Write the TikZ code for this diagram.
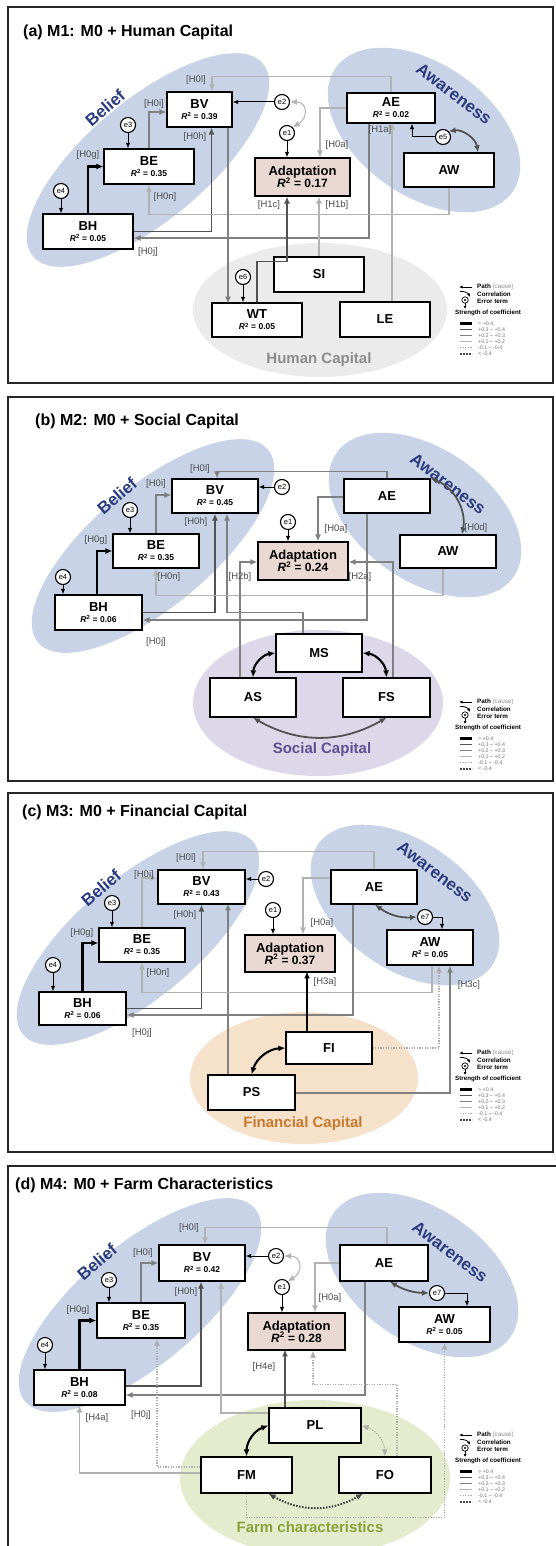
\documentclass[tikz,border=0pt]{standalone}
\usepackage{fontspec}
\setmainfont{Liberation Sans}
\usepackage{tikz}
\usetikzlibrary{arrows.meta}

\definecolor{blobblue}{HTML}{C9D3E7}
\definecolor{grpblue}{HTML}{2B3C7E}
\definecolor{humangray}{HTML}{EBEBEB}
\definecolor{socialpurple}{HTML}{DCD8EA}
\definecolor{socialtext}{HTML}{5E4F92}
\definecolor{finpeach}{HTML}{F6E2CA}
\definecolor{fintext}{HTML}{C7792E}
\definecolor{farmgreen}{HTML}{E5ECCD}
\definecolor{farmtext}{HTML}{86A33A}
\definecolor{adaptfill}{HTML}{EAD8D2}

\newcommand{\rsqv}[1]{{\itshape R}\textsuperscript{2} = #1}
\newcommand{\rline}[1]{\\[-2pt]{\fontsize{8.5}{9}\selectfont\rsqv{#1}}}
\newcommand{\adline}[1]{Adaptation\\[-1pt]{\fontsize{12}{12}\selectfont\rsqv{#1}}}

\begin{document}
\begin{tikzpicture}[x=1pt,y=-1pt,>={Latex[length=7pt,width=6pt]},
    box/.style={draw,line width=1.2pt,fill=white,inner sep=0pt,align=center,
                font=\bfseries\fontsize{13}{13}\selectfont},
    abox/.style={box,fill=adaptfill},
    wh/.style 2 args={minimum width=#1,minimum height=#2},
    err/.style={circle,draw,line width=1.1pt,fill=white,inner sep=0pt,
                minimum size=15pt,font=\fontsize{7.5}{8}\selectfont},
    earr/.style={->,line width=1pt,black,>={Latex[length=5.5pt,width=4.5pt]}},
    s1/.style={line width=2.1pt,black},
    s2/.style={line width=1.8pt,black!68},
    s3/.style={line width=1.3pt,black!50},
    s4/.style={line width=1.1pt,black!30},
    s5/.style={line width=1.2pt,black!32,dash pattern=on 1.2pt off 1.4pt},
    s6/.style={line width=2pt,black!72,dash pattern=on 1.6pt off 1.4pt},
    hl/.style={font=\fontsize{9.5}{10}\selectfont,text=black!70,inner sep=0pt},
    ttl/.style={anchor=west,inner sep=0pt,font=\bfseries\fontsize{16}{16}\selectfont},
    grp/.style={font=\bfseries\fontsize{17}{17}\selectfont,text=grpblue,inner sep=0pt},
    grplab/.style={font=\bfseries\fontsize{15}{15}\selectfont,inner sep=0pt},
    panelframe/.style={line width=1.2pt,black!85},
    kt/.style={font=\fontsize{6.3}{6.5}\selectfont,inner sep=0pt,anchor=west},
    kv/.style={font=\fontsize{5.3}{5.5}\selectfont,inner sep=0pt,anchor=west,text=black!55},
    pics/keybox/.style={code={
      \draw[->,line width=.8pt,>={Latex[length=3.5pt,width=3pt]}] (17,4) -- (4,4);
      \node[kt] at (22,4) {\textbf{Path} \textcolor{black!45}{(cause)}};
      \draw[->,line width=.8pt,>={Latex[length=3.5pt,width=3pt]}] (5,8.5) to[bend left=35] (15,14);
      \node[kt] at (22,11.5) {\textbf{Correlation}};
      \draw[line width=.7pt] (10,17) circle[radius=3.2];
      \fill (10,17) circle[radius=1.1];
      \draw[->,line width=.7pt,>={Latex[length=3pt,width=3pt]}] (10,20.2) -- (10,26);
      \node[kt] at (22,18.5) {\textbf{Error term}};
      \node[kt,font=\bfseries\fontsize{6.2}{6.5}\selectfont] at (0,30) {Strength of coefficient};
      \foreach \yy/\st/\tx in {40.5/s1/{> +0.4},46.5/s2/{+0.3 – +0.4},52.5/s3/{+0.2 – +0.3},
                               58.5/s4/{+0.1 – +0.2},64.5/s5/{-0.1 – -0.4},70.5/s6/{< -0.4}}{
        \draw[\st] (5,\yy) -- (17,\yy);
        \node[kv] at (23,\yy) {\tx};
      }
    }}]

\fill[white] (0,0) rectangle (556,1546);
\useasboundingbox (0,0) rectangle (556,1546);

% (a) human capital
\draw[panelframe] (8,7) rectangle (553,383);
\node[ttl] at (23,32) {(a) M1: M0 + Human Capital};
\fill[blobblue,rotate around={40:(148,160)}] (148,160) ellipse [x radius=150,y radius=60];
\fill[blobblue,rotate around={-35:(424,130)}] (424,130) ellipse [x radius=108,y radius=66];
\fill[humangray] (320,310) ellipse [x radius=127,y radius=67];
\node[grp,rotate=41] at (105,108) {Belief};
\node[grp,rotate=-37] at (454,94) {Awareness};
\node[grplab,text=black!45] at (319,360) {Human Capital};

\node[box,wh={65}{35}] (BVa) at (199.5,109.5) {BV\rline{0.39}};
\node[box,wh={88}{30}] (AEa) at (391,108) {AE\rline{0.02}};
\node[abox,wh={95}{38}] (ADa) at (302.5,177) {\adline{0.17}};
\node[box,wh={90}{35}] (BEa) at (149,166.5) {BE\rline{0.35}};
\node[box,wh={90}{34}] (AWa) at (449,170) {AW};
\node[box,wh={90}{35}] (BHa) at (88,231.5) {BH\rline{0.05}};
\node[box,wh={90}{34}] (WTa) at (257,320) {WT\rline{0.05}};
\node[box,wh={90}{35}] (SIa) at (319,274.5) {SI};
\node[box,wh={90}{35}] (LEa) at (385,319.5) {LE};
\node[err] (e1a) at (287,133) {e1};
\node[err] (e2a) at (282,102) {e2};
\node[err] (e3a) at (128,125) {e3};
\node[err] (e4a) at (61,191) {e4};
\node[err] (e5a) at (443,137) {e5};
\node[err] (e6a) at (243,277) {e6};

\draw[s4,->] (AEa.north) -- ++(0,-16) -| ([xshift=12.5pt]BVa.north);
\draw[s3,->] (BEa.north) |- ([yshift=-2.5pt]BVa.west);
\draw[earr] (e2a) -- (e2a -| BVa.east);
\draw[<->,line width=1pt,black!30] (e2a.east) to[out=0,in=30,looseness=1.8] (e1a.north east);
\draw[earr] (e1a) -- (e1a |- ADa.north);
\draw[s4,->] (AEa.west) -| ([xshift=17.5pt]ADa.north);
\draw[s2,->] (BHa.east) -| ([xshift=12pt]BVa.south);
\draw[s3,->] ([xshift=-22pt]AEa.south) |- ([yshift=-6.5pt]BHa.east);
\draw[s4,->] (AWa.south) -- ++(0,27) -| (BEa.south);
\draw[s1,->] (BHa.north) |- (BEa.west);
\draw[earr] (e3a) -- (e3a |- BEa.north);
\draw[earr] (e4a) -- (e4a |- BHa.north);
\draw[s3,->] ([xshift=28.5pt]BVa.south) -- ++(0,176);
\draw[earr] (e6a) -- (e6a |- WTa.north);
\draw[s2,->] (WTa.north) -- ++(0,-41) -| ([xshift=-15.5pt]ADa.south);
\draw[s4,->] (SIa.north) -- (SIa.north |- ADa.south);
\draw[s4,->] ([xshift=7pt]LEa.north) -- ++(0,-179);
\draw[earr] (e5a.west) -| ([xshift=21pt]AEa.south);
\draw[s2,<->] (e5a.north east) to[bend left=45] ([xshift=29pt]AWa.north);

\node[hl] at (196,80) {[H0l]};
\node[hl] at (154,104) {[H0i]};
\node[hl] at (195,137) {[H0h]};
\node[hl] at (88,155) {[H0g]};
\node[hl] at (337,145) {[H0a]};
\node[hl] at (380,130) {[H1a]};
\node[hl] at (165,197) {[H0n]};
\node[hl] at (269,205) {[H1c]};
\node[hl] at (337,205) {[H1b]};
\node[hl] at (148,252) {[H0j]};
\pic at (455,283) {keybox};

% (b) social capital
\draw[panelframe] (8,397) rectangle (553,781);
\node[ttl] at (35,421) {(b) M2: M0 + Social Capital};
\fill[blobblue,rotate around={40:(153,546)}] (153,546) ellipse [x radius=150,y radius=60];
\fill[blobblue,rotate around={-35:(425,515)}] (425,515) ellipse [x radius=108,y radius=66];
\fill[socialpurple] (318,703) ellipse [x radius=125,y radius=73];
\node[grp,rotate=41] at (117,496) {Belief};
\node[grp,rotate=-37] at (448,484) {Awareness};
\node[grplab,text=socialtext] at (322,750) {Social Capital};

\node[box,wh={86}{34}] (BVb) at (215,496) {BV\rline{0.45}};
\node[box,wh={86}{34}] (AEb) at (387,496) {AE};
\node[abox,wh={90}{38}] (ADb) at (303,561) {\adline{0.24}};
\node[box,wh={86}{34}] (BEb) at (156,551) {BE\rline{0.35}};
\node[box,wh={96}{33}] (AWb) at (448,551.5) {AW};
\node[box,wh={87}{35}] (BHb) at (98.5,612.5) {BH\rline{0.06}};
\node[box,wh={86}{38}] (MSb) at (319,653) {MS};
\node[box,wh={86}{39}] (ASb) at (253,697.5) {AS};
\node[box,wh={87}{39}] (FSb) at (386.5,697.5) {FS};
\node[err] (e1b) at (288,522) {e1};
\node[err] (e2b) at (282,487) {e2};
\node[err] (e3b) at (130,510) {e3};
\node[err] (e4b) at (63,577) {e4};

\draw[s3,->] (AEb.north) -- ++(0,-7) -| ([xshift=2pt]BVb.north);
\draw[s3,->] (BEb.north) |- ([yshift=1pt]BVb.west);
\draw[earr] (e2b) -- (e2b -| BVb.east);
\draw[earr] (e1b) -- (e1b |- ADb.north);
\draw[s3,->] ([yshift=-1pt]AEb.west) -| ([xshift=15pt]ADb.north);
\draw[s2,<->] (AEb.north east) to[bend left=40] ([xshift=14pt]AWb.north);
\draw[s1,->] ([xshift=-1.5pt]BHb.north) |- (BEb.west);
\draw[earr] (e3b) -- (e3b |- BEb.north);
\draw[earr] (e4b) -- (e4b |- BHb.north);
\draw[s2,->] (BHb.east) -| (BVb.south);
\draw[s3,->] ([xshift=-16pt]MSb.north) -- ++(0,-21) -| ([xshift=12pt]BVb.south);
\draw[s4,->] ([xshift=-5pt]AWb.south) -- ++(0,27) -| (BEb.south);
\draw[s3,->] ([xshift=-20pt]AEb.south) |- ([yshift=-7.5pt]BHb.east);
\draw[s3,->] ([xshift=-13pt]ASb.north) |- ([yshift=-1pt]ADb.west);
\draw[s3,->] ([xshift=6.5pt]FSb.north) |- ([yshift=-1pt]ADb.east);
\draw[s1,<->] (MSb.west) to[bend right=40] (ASb.north);
\draw[s1,<->] (MSb.east) to[bend left=40] (FSb.north);
\draw[s2,<->] (ASb.south) to[bend right=30] (FSb.south);

\node[hl] at (200,469) {[H0l]};
\node[hl] at (156,484) {[H0i]};
\node[hl] at (196,522) {[H0h]};
\node[hl] at (96,540) {[H0g]};
\node[hl] at (336,529) {[H0a]};
\node[hl] at (476,528) {[H0d]};
\node[hl] at (169,577) {[H0n]};
\node[hl] at (240,577) {[H2b]};
\node[hl] at (360,577) {[H2a]};
\node[hl] at (156,642) {[H0j]};
\pic at (455,698) {keybox};

% (c) financial capital
\draw[panelframe] (8,793) rectangle (553,1152);
\node[ttl] at (22,812) {(c) M3: M0 + Financial Capital};
\fill[blobblue,rotate around={40:(138,938)}] (138,938) ellipse [x radius=150,y radius=60];
\fill[blobblue,rotate around={-35:(405,905)}] (405,905) ellipse [x radius=106,y radius=64];
\fill[finpeach] (304,1078) ellipse [x radius=114,y radius=66];
\node[grp,rotate=41] at (101,888) {Belief};
\node[grp,rotate=-37] at (435,872) {Awareness};
\node[grplab,text=fintext] at (303,1124) {Financial Capital};

\node[box,wh={87}{34}] (BVc) at (201.5,887) {BV\rline{0.43}};
\node[box,wh={86}{34}] (AEc) at (374,887) {AE};
\node[abox,wh={90}{37}] (ADc) at (290,953.5) {\adline{0.37}};
\node[box,wh={86}{34}] (BEc) at (142,945) {BE\rline{0.35}};
\node[box,wh={86}{35}] (AWc) at (430,947.5) {AW\rline{0.05}};
\node[box,wh={87}{33}] (BHc) at (82.5,1008.5) {BH\rline{0.06}};
\node[box,wh={86}{32}] (FIc) at (329,1048) {FI};
\node[box,wh={87}{35}] (PSc) at (251.5,1092.5) {PS};
\node[err] (e1c) at (273,910) {e1};
\node[err] (e2c) at (266,879) {e2};
\node[err] (e3c) at (112,903) {e3};
\node[err] (e4c) at (53,965) {e4};
\node[err] (e7c) at (425,917) {e7};

\draw[s4,->] (AEc.north) -- ++(0,-18) -| ([xshift=1.5pt]BVc.north);
\draw[s4,->] (BEc.north) |- ([yshift=9pt]BVc.west);
\draw[earr] (e2c) -- (e2c -| BVc.east);
\draw[earr] (e1c) -- (e1c |- ADc.north);
\draw[s4,->] ([yshift=9pt]AEc.west) -| ([xshift=13pt]ADc.north);
\draw[s2,<->] ([xshift=1pt]AEc.south) to[bend right=20] (e7c.west);
\draw[earr] (e7c.east) -| ([xshift=12pt]AWc.north);
\draw[s1,->] (BHc.north) |- ([yshift=2pt]BEc.west);
\draw[earr] (e3c) -- (e3c |- BEc.north);
\draw[earr] (e4c) -- (e4c |- BHc.north);
\draw[s2,->] (BHc.east) -| (BVc.south);
\draw[s3,->] ([xshift=-23.5pt]PSc.north) -- ++(0,-171);
\draw[s4,->] ([xshift=2pt]AWc.south) -- ++(0,27) -| (BEc.south);
\draw[s3,->] ([xshift=-21pt]AEc.south) |- ([yshift=-6.5pt]BHc.east);
\draw[s1,->] ([xshift=-22pt]FIc.north) -- ++(0,-60);
\draw[s5,->] (FIc.east) -| ([xshift=9pt]AWc.south);
\draw[s3,->] ([yshift=-0.5pt]PSc.east) -| ([xshift=20pt]AWc.south);
\draw[s1,<->] (FIc.west) to[bend right=35] (PSc.north);

\node[hl] at (186,858) {[H0l]};
\node[hl] at (144,875) {[H0i]};
\node[hl] at (185,915) {[H0h]};
\node[hl] at (82,933) {[H0g]};
\node[hl] at (322,923) {[H0a]};
\node[hl] at (158,973) {[H0n]};
\node[hl] at (325,982) {[H3a]};
\node[hl] at (469,985) {[H3c]};
\node[hl] at (142,1033) {[H0j]};
\pic at (455,1049) {keybox};

% (d) farm characteristics
\draw[panelframe] (8,1546) |- (556,1166);
\node[ttl] at (15,1185) {(d) M4: M0 + Farm Characteristics};
\fill[blobblue,rotate around={40:(140,1305)}] (140,1305) ellipse [x radius=150,y radius=60];
\fill[blobblue,rotate around={-35:(422,1275)}] (422,1275) ellipse [x radius=108,y radius=66];
\fill[farmgreen] (315,1478) ellipse [x radius=135,y radius=78];
\node[grp,rotate=41] at (97,1262) {Belief};
\node[grp,rotate=-37] at (450,1252) {Awareness};
\node[grplab,text=farmtext] at (310,1527) {Farm characteristics};

\node[box,wh={86}{36}] (BVd) at (202,1263) {BV\rline{0.42}};
\node[box,wh={88}{36}] (AEd) at (384,1263) {AE};
\node[abox,wh={97}{37}] (ADd) at (296.5,1331.5) {\adline{0.28}};
\node[box,wh={88}{35}] (BEd) at (141,1320.5) {BE\rline{0.35}};
\node[box,wh={91}{35}] (AWd) at (444.5,1324.5) {AW\rline{0.05}};
\node[box,wh={91}{35}] (BHd) at (79.5,1387.5) {BH\rline{0.08}};
\node[box,wh={92}{35}] (PLd) at (315,1425.5) {PL};
\node[box,wh={91}{36}] (FMd) at (246.5,1475) {FM};
\node[box,wh={92}{36}] (FOd) at (385,1475) {FO};
\node[err] (e1d) at (282,1287) {e1};
\node[err] (e2d) at (276,1256) {e2};
\node[err] (e3d) at (109,1280) {e3};
\node[err] (e4d) at (45,1345) {e4};
\node[err] (e7d) at (437,1293) {e7};

\draw[s4,->] ([xshift=3pt]AEd.north) -- ++(0,-17) -| ([xshift=3pt]BVd.north);
\draw[s3,->] (BEd.north) |- (BVd.west);
\draw[earr] (e2d) -- (e2d -| BVd.east);
\draw[<->,line width=1pt,black!30] (e2d.east) to[out=0,in=30,looseness=1.8] (e1d.north east);
\draw[earr] (e1d) -- (e1d |- ADd.north);
\draw[s4,->] (AEd.west) -| ([xshift=18.5pt]ADd.north);
\draw[s2,<->] ([xshift=6pt]AEd.south) to[bend right=15] (e7d.west);
\draw[earr] (e7d.east) -| ([xshift=22.5pt]AWd.north);
\draw[s1,->] (BHd.north) |- (BEd.west);
\draw[earr] (e3d) -- (e3d |- BEd.north);
\draw[earr] (e4d) -- (e4d |- BHd.north);
\draw[s2,->] ([yshift=1.5pt]BHd.east) -| ([xshift=-1pt]BVd.south);
\draw[s3,->] ([xshift=-19pt]AEd.south) |- ([yshift=-7.5pt]BHd.east);
\draw[s4,->] ([yshift=12.5pt]PLd.west) -| ([xshift=19pt]BVd.south);
\draw[s2,->] ([xshift=-30pt]PLd.north) -- ++(0,-58);
\draw[s4,->] ([yshift=2pt]FMd.west) -| (BHd.south);
\draw[s5,->] ([yshift=8pt]FMd.west) -| ([xshift=16pt]BEd.south);
\draw[s5,->] ([xshift=12pt]FOd.north) -- ++(0,-72) -| ([xshift=16.5pt]ADd.south);
\draw[s5,->] (FMd.south) -- ++(0,24) -| (AWd.south);
\draw[s1,<->] (PLd.west) to[bend right=35] (FMd.north);
\draw[s5,<->] (PLd.east) to[bend left=35] (FOd.north);
\draw[s6,<->] ([xshift=22pt]FMd.south) to[bend right=30] ([xshift=-22pt]FOd.south);

\node[hl] at (189,1228) {[H0l]};
\node[hl] at (143,1253) {[H0i]};
\node[hl] at (186,1292) {[H0h]};
\node[hl] at (78,1310) {[H0g]};
\node[hl] at (330,1298) {[H0a]};
\node[hl] at (264,1367) {[H4e]};
\node[hl] at (141,1415) {[H0j]};
\node[hl] at (97,1418) {[H4a]};
\pic at (455,1431) {keybox};
\end{tikzpicture}
\end{document}
